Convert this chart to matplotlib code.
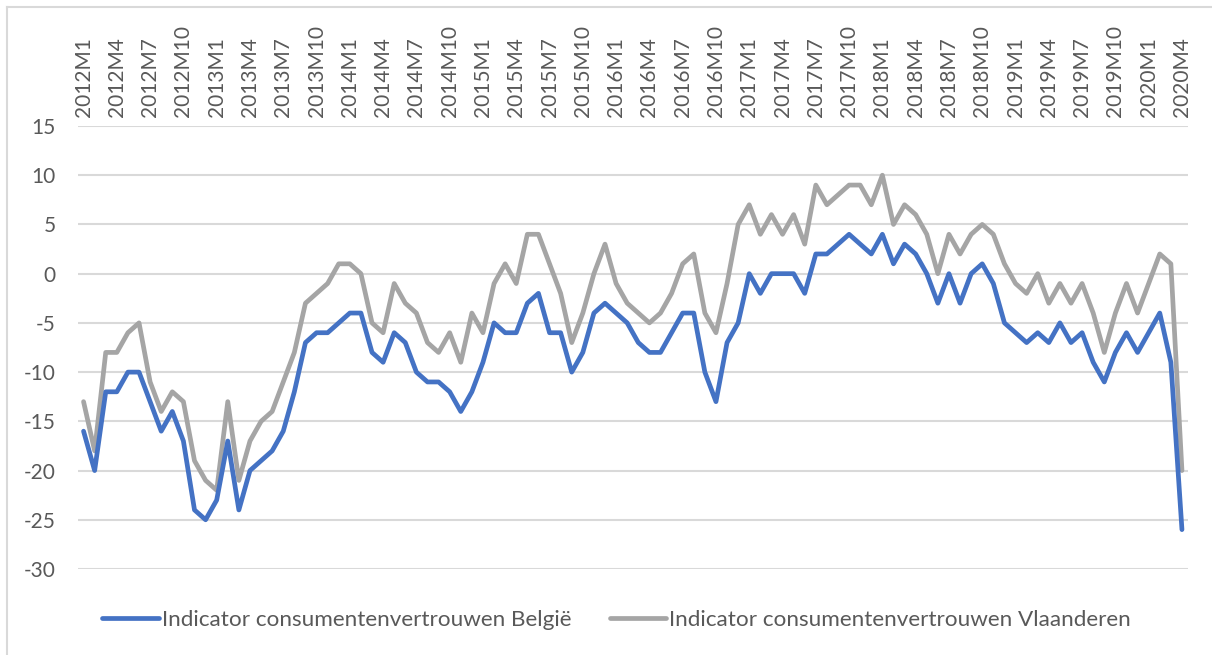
import matplotlib
matplotlib.use("Agg")
import matplotlib.pyplot as plt
from matplotlib.lines import Line2D

# ---- data ----
years = list(range(2012, 2021))
periods = [f"{y}M{m}" for y in years for m in range(1, 13)][:100]  # 2012M1 .. 2020M4

belgie = [
    -16, -20, -12, -12, -10, -10, -13, -16, -14, -17, -24, -25,   # 2012
    -23, -17, -24, -20, -19, -18, -16, -12, -7, -6, -6, -5,       # 2013
    -4, -4, -8, -9, -6, -7, -10, -11, -11, -12, -14, -12,         # 2014
    -9, -5, -6, -6, -3, -2, -6, -6, -10, -8, -4, -3,              # 2015
    -4, -5, -7, -8, -8, -6, -4, -4, -10, -13, -7, -5,             # 2016
    0, -2, 0, 0, 0, -2, 2, 2, 3, 4, 3, 2,                         # 2017
    4, 1, 3, 2, 0, -3, 0, -3, 0, 1, -1, -5,                       # 2018
    -6, -7, -6, -7, -5, -7, -6, -9, -11, -8, -6, -8,              # 2019
    -6, -4, -9, -26,                                              # 2020
]
vlaanderen = [
    -13, -18, -8, -8, -6, -5, -11, -14, -12, -13, -19, -21,       # 2012
    -22, -13, -21, -17, -15, -14, -11, -8, -3, -2, -1, 1,         # 2013
    1, 0, -5, -6, -1, -3, -4, -7, -8, -6, -9, -4,                 # 2014
    -6, -1, 1, -1, 4, 4, 1, -2, -7, -4, 0, 3,                     # 2015
    -1, -3, -4, -5, -4, -2, 1, 2, -4, -6, -1, 5,                  # 2016
    7, 4, 6, 4, 6, 3, 9, 7, 8, 9, 9, 7,                           # 2017
    10, 5, 7, 6, 4, 0, 4, 2, 4, 5, 4, 1,                          # 2018
    -1, -2, 0, -3, -1, -3, -1, -4, -8, -4, -1, -4,                # 2019
    -1, 2, 1, -20,                                                # 2020
]
series_names = ["Indicator consumentenvertrouwen België",
                "Indicator consumentenvertrouwen Vlaanderen"]
y_ticks = [15, 10, 5, 0, -5, -10, -15, -20, -25, -30]

# ---- style ----
BLUE = "#4472C4"
GRAY = "#A5A5A5"
TXT = "#595959"
GRID = "#D9D9D9"
plt.rcParams['font.family'] = ['Lato', 'DejaVu Sans']

W, H = 1212, 655
fig = plt.figure(figsize=(W / 100, H / 100), dpi=100)
ax = fig.add_axes([78 / W, 1 - 569 / H, (1187.5 - 78) / W, (569 - 126) / H])

x = list(range(len(periods)))
common = dict(lw=3.4, solid_joinstyle='round', solid_capstyle='round')
ax.plot(x, belgie, color=BLUE, zorder=3, **common)
ax.plot(x, vlaanderen, color=GRAY, zorder=2, **common)

ax.set_xlim(-0.5, len(periods) - 0.5)
ax.set_ylim(-30, 15)
ax.set_yticks(y_ticks)
ax.set_yticklabels([str(v) for v in y_ticks])
ax.yaxis.grid(True, color=GRID, lw=1.5)
ax.set_axisbelow(True)

ax.set_xticks(x[::3])
ax.set_xticklabels(periods[::3], rotation=90)
ax.xaxis.tick_top()
ax.tick_params(axis='x', length=0, pad=6.5, labelsize=15, colors=TXT)
ax.tick_params(axis='y', length=0, pad=16, labelsize=15, colors=TXT)
for s in ax.spines.values():
    s.set_visible(False)

# legend
handles = [Line2D([], [], color=BLUE, lw=3.4, solid_capstyle='round'),
           Line2D([], [], color=GRAY, lw=3.4, solid_capstyle='round')]
leg = fig.legend(handles, series_names, loc='center', ncol=2,
                 bbox_to_anchor=(616.5 / W, 1 - 620 / H), frameon=False,
                 fontsize=16.2, handlelength=2.5, handletextpad=0.14,
                 columnspacing=1.7, borderpad=0, borderaxespad=0)
for t in leg.get_texts():
    t.set_color(TXT)

# chart border (top and left visible)
fig.add_artist(Line2D([6.5 / W, 6.5 / W], [0, 1 - 7 / H], color=GRID, lw=1.5,
                      transform=fig.transFigure))
fig.add_artist(Line2D([6.5 / W, 1], [1 - 7 / H, 1 - 7 / H], color=GRID, lw=1.5,
                      transform=fig.transFigure))

fig.savefig("out.png", dpi=100)
